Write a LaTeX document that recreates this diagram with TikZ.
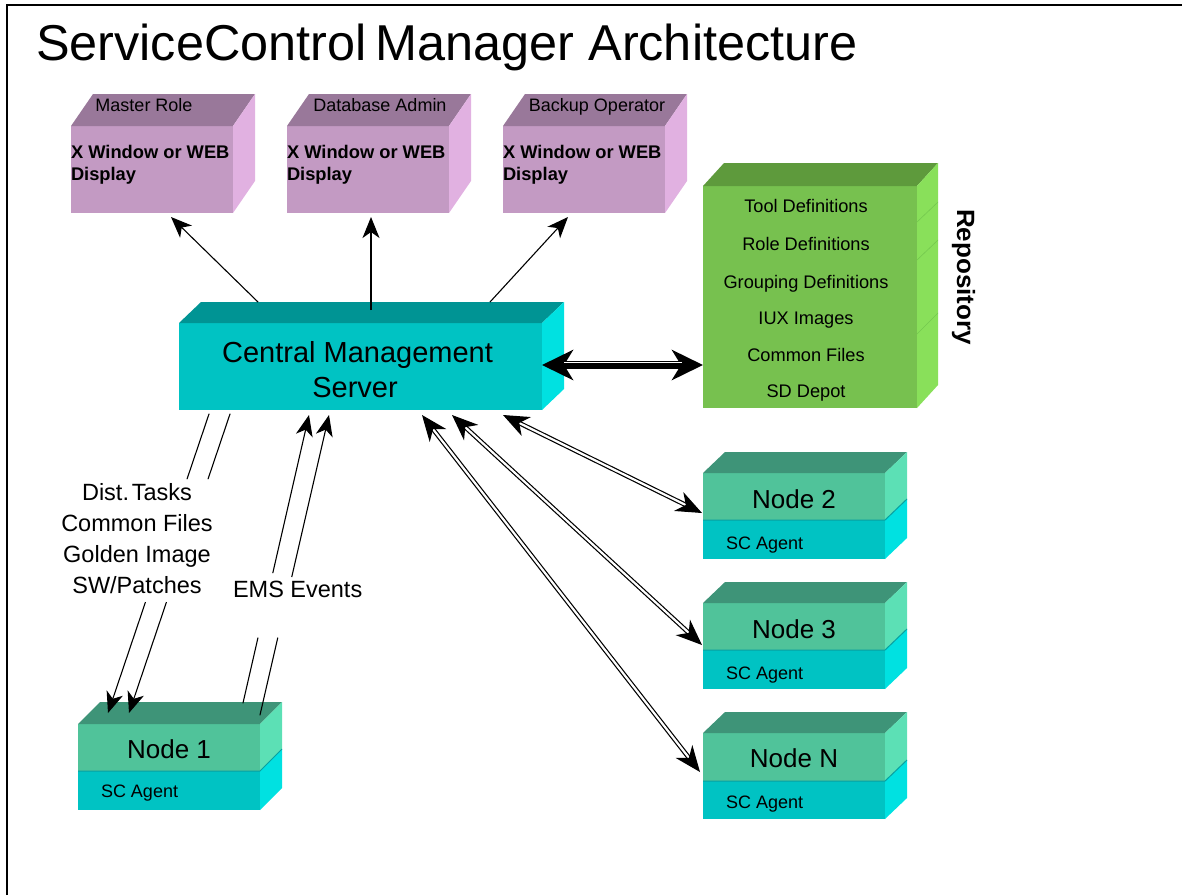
\documentclass[tikz,border=0pt]{standalone}
\usepackage{fontspec}
\setmainfont{Liberation Sans}
\usetikzlibrary{arrows.meta,calc}
\definecolor{pfront}{HTML}{C39AC3}
\definecolor{ptop}{HTML}{99789A}
\definecolor{pside}{HTML}{E1B1E1}
\definecolor{cfront}{HTML}{00C3C3}
\definecolor{ctop}{HTML}{009494}
\definecolor{cside}{HTML}{00E1E1}
\definecolor{gfront}{HTML}{77C14F}
\definecolor{gtop}{HTML}{5E9A3C}
\definecolor{gside}{HTML}{89E05A}
\definecolor{gline}{HTML}{74C84E}
\definecolor{nfront}{HTML}{50C39A}
\definecolor{ntop}{HTML}{3E9478}
\definecolor{nside}{HTML}{5CE0B5}
\definecolor{divcol}{HTML}{08A0A0}
\newcommand{\cubefaces}[5]{%
  \fill[#4] (#1.north west) -- ($(#1.north west)+(#2,#3)$) -- ($(#1.north east)+(#2,#3)$) -- (#1.north east) -- cycle;
  \fill[#5] (#1.north east) -- ($(#1.north east)+(#2,#3)$) -- ($(#1.south east)+(#2,#3)$) -- (#1.south east) -- cycle;}
\newcommand{\sideonly}[4]{%
  \fill[#4] (#1.north east) -- ($(#1.north east)+(#2,#3)$) -- ($(#1.south east)+(#2,#3)$) -- (#1.south east) -- cycle;}
\tikzset{
  face/.style={inner sep=0pt, outer sep=0pt, anchor=north west},
  lbl/.style={inner sep=0pt, outer sep=0pt},
  plainline/.style={line width=1.1pt, line cap=round},
  arr/.style={line width=1.1pt, -{Stealth[length=21pt,width=17pt,inset=6pt]}},
  dbl/.style={double=white, double distance=2.2pt, line width=1.2pt,
    {Stealth[length=26pt,width=21pt,inset=8pt]}-{Stealth[length=26pt,width=21pt,inset=8pt]}},
  fat/.style={line width=8pt, {Stealth[length=31pt,width=30pt,inset=9pt]}-{Stealth[length=31pt,width=30pt,inset=9pt]}},
  roletext/.style={lbl, font=\fontsize{18}{22}\selectfont, anchor=base},
  disptext/.style={lbl, font=\bfseries\fontsize{18.3}{22}\selectfont, anchor=base west},
  repotext/.style={lbl, font=\fontsize{18.2}{22}\selectfont, anchor=base},
  nodetext/.style={lbl, font=\fontsize{26}{30}\selectfont, anchor=base},
  agenttext/.style={lbl, font=\fontsize{18}{22}\selectfont, anchor=base west},
  flowtext/.style={lbl, font=\fontsize{23.5}{28}\selectfont, anchor=base},
}
\begin{document}
\begin{tikzpicture}[x=1pt,y=-1pt]
\useasboundingbox (0,0) rectangle (1182,895);
% frame
\draw[line width=1.8pt] (7,895) -- (7,5) -- (1182,5);
% title
\node[lbl, anchor=base west, font=\fontsize{50.4}{60}\selectfont] (title) at (36,60) {ServiceControl\hspace{0.18em}Manager Architecture};

% purple display boxes
\node[face, fill=pfront, minimum width=162pt, minimum height=87pt] (p1) at (71,126) {};
\node[face, fill=pfront, minimum width=162pt, minimum height=87pt] (p2) at (287,126) {};
\node[face, fill=pfront, minimum width=162pt, minimum height=87pt] (p3) at (503,126) {};
\cubefaces{p1}{22}{-32}{ptop}{pside}
\cubefaces{p2}{22}{-32}{ptop}{pside}
\cubefaces{p3}{22}{-32}{ptop}{pside}
\node[roletext] (r1) at (144,111) {Master Role};
\node[roletext] (r2) at (380,111) {Database Admin};
\node[roletext] (r3) at (597,111) {Backup Operator};
\node[disptext] (d1a) at (71,158) {X Window or WEB};
\node[disptext] (d1b) at (71,180) {Display};
\node[disptext] (d2a) at (287,158) {X Window or WEB};
\node[disptext] (d2b) at (287,180) {Display};
\node[disptext] (d3a) at (503,158) {X Window or WEB};
\node[disptext] (d3b) at (503,180) {Display};

% central management server
\node[face, fill=cfront, minimum width=363pt, minimum height=87pt] (cms) at (179,323) {};
\cubefaces{cms}{22}{-21}{ctop}{cside}
\node[lbl, font=\fontsize{29}{35}\selectfont, anchor=base] (cmst1) at (357.5,362) {Central Management};
\node[lbl, font=\fontsize{29}{35}\selectfont, anchor=base] (cmst2) at (355,397) {Server};

% repository
\node[face, fill=gfront, minimum width=214pt, minimum height=222pt] (repo) at (703,186) {};
\cubefaces{repo}{21}{-23}{gtop}{gside}
\draw[gline, line width=0.6pt] ($(repo.north east)+(0,36)$) -- ++(21,-20);
\draw[gline, line width=0.6pt] ($(repo.north east)+(0,74)$) -- ++(21,-20);
\draw[gline, line width=0.6pt] ($(repo.north east)+(0,148)$) -- ++(21,-21);
\node[repotext] (rp1) at (806,212) {Tool Definitions};
\node[repotext] (rp2) at (806,250) {Role Definitions};
\node[repotext] (rp3) at (806,288) {Grouping Definitions};
\node[repotext] (rp4) at (806,324) {IUX Images};
\node[repotext] (rp5) at (806,361) {Common Files};
\node[repotext] (rp6) at (806,397) {SD Depot};
\node[lbl, rotate=-90, anchor=base, font=\bfseries\fontsize{25}{30}\selectfont] (repolbl) at (957,277) {\scalebox{1.04}[1]{Repository}};

% managed nodes
\node[face, fill=nfront, minimum width=182pt, minimum height=47pt] (n1) at (78,724) {};
\node[face, fill=cfront, minimum width=182pt, minimum height=39pt] (a1) at (78,771) {};
\cubefaces{n1}{22}{-22}{ntop}{nside}
\sideonly{a1}{22}{-22}{cside}
\draw[divcol, line width=1pt] (a1.north west) -- (a1.north east) -- ++(22,-22);

\node[face, fill=nfront, minimum width=182pt, minimum height=47pt] (n2) at (703,473) {};
\node[face, fill=cfront, minimum width=182pt, minimum height=39pt] (a2) at (703,520) {};
\cubefaces{n2}{22}{-21}{ntop}{nside}
\sideonly{a2}{22}{-21}{cside}
\draw[divcol, line width=1pt] (a2.north west) -- (a2.north east) -- ++(22,-21);

\node[face, fill=nfront, minimum width=182pt, minimum height=47pt] (n3) at (703,603) {};
\node[face, fill=cfront, minimum width=182pt, minimum height=39pt] (a3) at (703,650) {};
\cubefaces{n3}{22}{-21}{ntop}{nside}
\sideonly{a3}{22}{-21}{cside}
\draw[divcol, line width=1pt] (a3.north west) -- (a3.north east) -- ++(22,-21);

\node[face, fill=nfront, minimum width=182pt, minimum height=48pt] (nN) at (703,733) {};
\node[face, fill=cfront, minimum width=182pt, minimum height=38pt] (aN) at (703,781) {};
\cubefaces{nN}{22}{-21}{ntop}{nside}
\sideonly{aN}{22}{-21}{cside}
\draw[divcol, line width=1pt] (aN.north west) -- (aN.north east) -- ++(22,-21);

\node[nodetext] (n1t) at (169,758) {Node 1};
\node[agenttext] (a1t) at (101,797) {SC Agent};
\node[nodetext] (n2t) at (794,508) {Node 2};
\node[agenttext] (a2t) at (726,549) {SC Agent};
\node[nodetext] (n3t) at (794,638) {Node 3};
\node[agenttext] (a3t) at (726,679) {SC Agent};
\node[nodetext] (nNt) at (794,767) {Node N};
\node[agenttext] (aNt) at (726,808) {SC Agent};

% flow labels
\node[flowtext] (fl1) at (137,500) {Dist.\hspace{0.12em}Tasks};
\node[flowtext] (fl2) at (137,531) {Common Files};
\node[flowtext] (fl3) at (137,562) {Golden Image};
\node[flowtext] (fl4) at (137,593) {SW/Patches};
\node[flowtext, anchor=base west] (ems) at (233,597) {EMS Events};

% CMS -> displays
\draw[arr] ($(cms.north west)+(79,-21)$) -- ($(p1.south west)+(100,4)$);
\draw[arr] ($(cms.north west)+(192,-13)$) -- ($(p2.south west)+(84,4)$);
\draw[arr] ($(cms.north west)+(311,-21)$) -- ($(p3.south west)+(65,4)$);

% CMS <-> repository
\draw[fat] ($(cms.south east)+(0,-45)$) -- ($(repo.south west)+(0,-43)$);
\draw[white, line width=1.6pt] ($(cms.south east)+(22,-47.5)$) -- ($(repo.south west)+(-21,-45.5)$);

% CMS -> node 1 (distribution)
\coordinate (ds1) at ($(cms.south west)+(30,4)$);
\coordinate (de1) at ($(n1.north west)+(30,-11)$);
\coordinate (ds2) at ($(cms.south west)+(51,4)$);
\coordinate (de2) at ($(n1.north west)+(51,-11)$);
\draw[plainline] (ds1) -- ($(ds1)!0.217!(de1)$);
\draw[arr] ($(ds1)!0.629!(de1)$) -- (de1);
\draw[plainline] (ds2) -- ($(ds2)!0.217!(de2)$);
\draw[arr] ($(ds2)!0.629!(de2)$) -- (de2);

% node 1 -> CMS (EMS events)
\coordinate (es1) at ($(n1.north west)+(165,-21)$);
\coordinate (ee1) at ($(cms.south west)+(130,5)$);
\coordinate (es2) at ($(n1.north west)+(182,-9)$);
\coordinate (ee2) at ($(cms.south west)+(150,5)$);
\draw[plainline] (es1) -- ($(es1)!0.226!(ee1)$);
\draw[arr] ($(es1)!0.451!(ee1)$) -- (ee1);
\draw[plainline] (es2) -- ($(es2)!0.257!(ee2)$);
\draw[arr] ($(es2)!0.46!(ee2)$) -- (ee2);

% CMS <-> nodes 2, 3, N
\draw[dbl] ($(cms.south east)+(-39,5)$) -- ($(n2.south west)+(-1,-7)$);
\draw[dbl] ($(cms.south east)+(-90,5)$) -- ($(n3.south west)+(-1,-5)$);
\draw[dbl] ($(cms.south east)+(-120,5)$) -- ($(nN.south west)+(-3,-9)$);
\end{tikzpicture}
\end{document}
